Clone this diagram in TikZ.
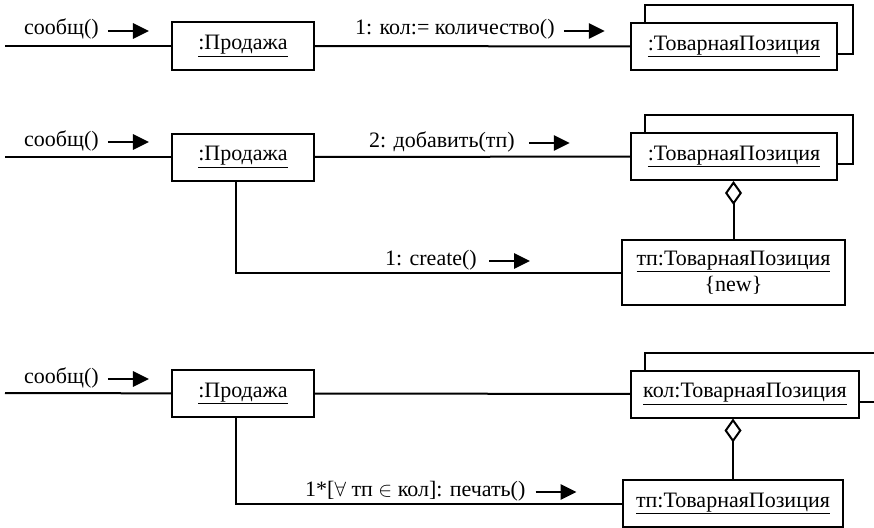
\documentclass[tikz,border=0pt]{standalone}
\usepackage{fontspec}
\setmainfont{Liberation Serif}
\usetikzlibrary{arrows.meta}

\begin{document}
\begin{tikzpicture}[
x=1pt, y=-1pt,
font=\fontsize{22}{26}\selectfont,
obj/.style={draw, line width=2pt, fill=white, inner sep=0pt, minimum height=47pt},
link/.style={line width=2pt},
back/.style={line width=2pt},
msg/.style={line width=2.8pt, -{Triangle[length=16pt,width=15pt]}},
agg/.style={line width=2pt, {Diamond[open,length=24pt,width=17pt]}-},
lbl/.style={anchor=base west, inner sep=0pt}
]

%% Box
\useasboundingbox (0,0) rectangle (874,527);
\clip (0,0) rectangle (874,527);

\def\dx{15}	% shift of the back box
\def\dy{17}
\def\backbox#1{\draw[back] ([xshift=\dx pt]#1.north west) |- ([xshift=\dx pt,yshift=\dy pt]#1.north east) |- ([yshift=\dy pt]#1.south east);}

% % quantity
\node[obj, minimum width=142pt] (sale1) at (243,46) {\underline{:Продажа}};
\node[obj, minimum width=206pt] (item1) at (734,46.5) {\underline{:ТоварнаяПозиция}};
\backbox{item1}
\coordinate (in1) at (5,46);
\draw[link] (in1) -- (sale1);
\draw[link] (sale1) -- (item1);

\node[lbl] (call1) at (24,35) {сообщ()};
\draw[msg] ([xshift=9pt,yshift=4pt]call1.base east) -- ++(41,0);
\node[lbl] (qty1) at (355,35) {1: кол:= количество()};
\draw[msg] ([xshift=9pt,yshift=4pt]qty1.base east) -- ++(41,0);

% % add
\node[obj, minimum width=142pt] (sale2) at (243,157) {\underline{:Продажа}};
\node[obj, minimum width=206pt] (item2) at (734,156.5) {\underline{:ТоварнаяПозиция}};
\backbox{item2}
\node[obj, minimum width=223pt, minimum height=65pt, align=center] (part2) at (733.5,272.5)
  {\underline{тп:ТоварнаяПозиция}\\\{new\}};
\coordinate (in2) at (5,157);
\draw[link] (in2) -- (sale2);
\draw[link] (sale2) -- (item2);
\draw[agg] (part2.north |- item2.south) -- (part2.north);
\draw[link] ([xshift=-7pt]sale2.south) |- (part2.west);

\node[lbl] (call2) at (24,146) {сообщ()};
\draw[msg] ([xshift=9pt,yshift=4pt]call2.base east) -- ++(41,0);
\node[lbl] (add2) at (369,147) {2: добавить(тп)};
\draw[msg] ([xshift=14pt,yshift=4pt]add2.base east) -- ++(41,0);
\node[lbl] (new2) at (385,265) {1: create()};
\draw[msg] ([xshift=12pt,yshift=4pt]new2.base east) -- ++(41,0);

% % print
\node[obj, minimum width=142pt] (sale3) at (243,393.5) {\underline{:Продажа}};
\node[obj, minimum width=228pt] (item3) at (745,394) {\underline{кол:ТоварнаяПозиция}};
\backbox{item3}
\node[obj, minimum width=220pt] (part3) at (733,503.5) {\underline{тп:ТоварнаяПозиция}};
\coordinate (in3) at (5,393);
\draw[link] (in3) -- (sale3);
\draw[link] (sale3) -- (item3);
\draw[agg] (part3.north |- item3.south) -- (part3.north);
\draw[link] ([xshift=-7pt]sale3.south) |- (part3.west);

\node[lbl] (call3) at (24,383) {сообщ()};
\draw[msg] ([xshift=9pt,yshift=4pt]call3.base east) -- ++(41,0);
\node[lbl] (print3) at (305,496) {1*[$\forall$ тп $\in$ кол]: печать()};
\draw[msg] ([xshift=10pt,yshift=4pt]print3.base east) -- ++(41,0);

\end{tikzpicture}
\end{document}
